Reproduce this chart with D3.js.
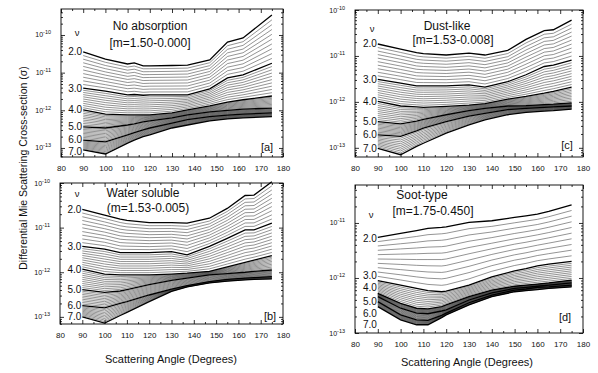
<!DOCTYPE html>
<html>
<head>
<meta charset="utf-8">
<script src="https://cdn.jsdelivr.net/npm/d3@7"></script>
<style>
  body { margin: 0; background: #fff; }
  text { font-family: "Liberation Sans", Arial, sans-serif; fill: #111; }
</style>
</head>
<body>
<div id="chart"></div>
<script>
let width = 598, height = 373;

// size-distribution parameter of the labelled (thick) curves
const nuKeys = [2, 3, 4, 5, 6, 7];
const nuLabels = ["2.0", "3.0", "4.0", "5.0", "6.0", "7.0"];
const xTicks = [80, 90, 100, 110, 120, 130, 140, 150, 160, 170, 180];

// [a] No absorption, log10 of cross-section, one row per nu
const angA = [90, 100, 110, 113, 117, 120, 130, 137, 147, 155, 162, 175];
const logA = [
  [-10.45, -10.64, -10.77, -10.74, -10.82, -10.82, -10.81, -10.80, -10.66, -10.19, -10.08, -9.47],
  [-11.41, -11.49, -11.59, -11.58, -11.60, -11.59, -11.59, -11.59, -11.43, -11.14, -11.06, -10.75],
  [-11.99, -12.10, -12.12, -12.12, -12.12, -12.12, -12.07, -11.99, -11.88, -11.78, -11.72, -11.62],
  [-12.44, -12.47, -12.39, -12.36, -12.31, -12.28, -12.20, -12.12, -12.04, -12.00, -11.97, -11.94],
  [-12.79, -12.84, -12.65, -12.59, -12.52, -12.47, -12.34, -12.25, -12.17, -12.13, -12.10, -12.07],
  [-13.05, -13.16, -12.87, -12.79, -12.70, -12.65, -12.47, -12.39, -12.28, -12.23, -12.20, -12.17]
];
const labelLogA = [-10.45, -11.41, -11.99, -12.43, -12.77, -13.10];

// [b] Water soluble
const angB = [90, 100, 107, 110, 120, 130, 137, 147, 155, 163, 167, 175];
const logB = [
  [-10.59, -10.72, -10.81, -10.84, -10.89, -10.89, -10.90, -10.79, -10.57, -10.28, -10.27, -9.97],
  [-11.42, -11.48, -11.56, -11.56, -11.56, -11.54, -11.61, -11.42, -11.24, -11.05, -11.05, -10.90],
  [-11.93, -12.04, -12.06, -12.06, -12.06, -12.04, -12.02, -11.98, -11.88, -11.78, -11.73, -11.63],
  [-12.39, -12.45, -12.42, -12.39, -12.28, -12.18, -12.13, -12.06, -12.03, -12.00, -11.98, -11.95],
  [-12.75, -12.80, -12.70, -12.66, -12.51, -12.38, -12.30, -12.21, -12.16, -12.13, -12.12, -12.10],
  [-13.00, -13.14, -12.97, -12.90, -12.66, -12.43, -12.33, -12.24, -12.20, -12.17, -12.16, -12.15]
];

// [c] Dust-like
const angC = [90, 100, 107, 110, 120, 130, 137, 147, 155, 163, 167, 175];
const logC = [
  [-10.74, -10.85, -10.93, -10.95, -10.98, -10.94, -10.98, -10.88, -10.64, -10.45, -10.43, -10.22],
  [-11.51, -11.59, -11.65, -11.65, -11.65, -11.63, -11.68, -11.56, -11.41, -11.23, -11.20, -11.09],
  [-11.99, -12.09, -12.11, -12.12, -12.10, -12.07, -12.04, -11.94, -11.88, -11.81, -11.77, -11.68],
  [-12.43, -12.48, -12.42, -12.38, -12.28, -12.19, -12.14, -12.09, -12.08, -12.06, -12.05, -12.02],
  [-12.72, -12.75, -12.63, -12.57, -12.43, -12.31, -12.25, -12.17, -12.14, -12.12, -12.11, -12.09],
  [-13.01, -13.15, -12.97, -12.90, -12.68, -12.50, -12.39, -12.28, -12.23, -12.20, -12.19, -12.16]
];

// [d] Soot-type
const angD = [90, 100, 107, 112, 118, 120, 130, 140, 150, 155, 160, 165, 175];
const logD = [
  [-11.26, -11.19, -11.14, -11.10, -11.08, -11.07, -10.99, -10.96, -10.90, -10.87, -10.84, -10.79, -10.67],
  [-12.05, -12.13, -12.19, -12.23, -12.25, -12.24, -12.13, -11.98, -11.87, -11.83, -11.78, -11.75, -11.70],
  [-12.28, -12.46, -12.55, -12.56, -12.52, -12.49, -12.34, -12.22, -12.15, -12.13, -12.11, -12.09, -12.04],
  [-12.34, -12.55, -12.64, -12.65, -12.60, -12.58, -12.40, -12.27, -12.19, -12.17, -12.15, -12.13, -12.09],
  [-12.43, -12.67, -12.76, -12.77, -12.68, -12.64, -12.45, -12.31, -12.22, -12.20, -12.17, -12.16, -12.13],
  [-12.52, -12.76, -12.85, -12.85, -12.72, -12.67, -12.49, -12.34, -12.25, -12.23, -12.21, -12.19, -12.16]
];
// where the nu labels of panel d sit (log10 units), they are spread apart
const labelLogD = [-11.29, -11.96, -12.18, -12.42, -12.64, -12.84];

let panels = [
  {ang: angA, logs: logA, title: "No absorption", sub: "[m=1.50-0.000]", tag: "[a]", labelLog: labelLogA,
   x0: 61, x1: 283, y0: 9, y1: 157, dom: [-13.24, -9.31],
   tx: 150, ty: 30, sx: 150, sy: 47, nx: 77, ny: 36, gx: 267, gy: 151},
  {ang: angB, logs: logB, title: "Water soluble", sub: "(m=1.53-0.005)", tag: "[b]",
   x0: 60, x1: 283, y0: 183, y1: 324, dom: [-13.16, -10],
   tx: 143, ty: 197, sx: 148, sy: 212, nx: 77, ny: 197, gx: 270, gy: 320},
  {ang: angC, logs: logC, title: "Dust-like", sub: "[m=1.53-0.008]", tag: "[c]",
   x0: 355, x1: 583, y0: 10, y1: 157, dom: [-13.2, -10],
   tx: 447, ty: 30, sx: 453, sy: 44, nx: 372, ny: 32, gx: 567, gy: 149},
  {ang: angD, logs: logD, title: "Soot-type", sub: "[m=1.75-0.450]", tag: "[d]", labelLog: labelLogD,
   x0: 355, x1: 583, y0: 185, y1: 333, dom: [-13, -10.31],
   tx: 422, ty: 199, sx: 433, sy: 215, nx: 371, ny: 218, gx: 565, gy: 321}
];

let svg = d3.select("#chart").append("svg")
  .attr("width", width).attr("height", height)
  .attr("viewBox", [0, 0, width, height]);

// all nu values 2.0 .. 7.0 in steps of 0.1
let nuAll = d3.range(20, 71).map(d => d / 10);

function curveFor(p, nu) {
  let i = Math.min(Math.floor(nu) - 2, 4);
  let t = nu - nuKeys[i];
  let a = p.logs[i], b = p.logs[Math.min(i + 1, 5)];
  return p.ang.map((th, k) => [th, a[k] + (b[k] - a[k]) * t]);
}

panels.forEach(p => {
  let x = d3.scaleLinear().domain([80, 180]).range([p.x0, p.x1]);
  let y = d3.scaleLog().domain([Math.pow(10, p.dom[0]), Math.pow(10, p.dom[1])]).range([p.y1, p.y0]);
  let g = svg.append("g");

  let line = d3.line().x(d => x(d[0])).y(d => y(Math.pow(10, d[1])));

  // thin curves first, thick (integer nu) on top
  let thin = nuAll.filter(n => Math.abs(n - Math.round(n)) > 1e-6);
  g.append("g").selectAll("path").data(thin).join("path")
    .attr("d", n => line(curveFor(p, n)))
    .attr("fill", "none").attr("stroke", "#3a3a3a").attr("stroke-width", 0.55);
  g.append("g").selectAll("path").data(nuKeys).join("path")
    .attr("d", n => line(curveFor(p, n)))
    .attr("fill", "none").attr("stroke", "#000").attr("stroke-width", 1.3);

  // nu labels at the curve starts
  g.append("g").selectAll("text").data(nuLabels).join("text")
    .attr("x", x(90) - 1)
    .attr("y", (d, i) => y(Math.pow(10, p.labelLog ? p.labelLog[i] : p.logs[i][0])) + 3.5)
    .attr("text-anchor", "end")
    .attr("font-size", 10)
    .text(d => d);

  // frame
  g.append("rect").attr("x", p.x0).attr("y", p.y0)
    .attr("width", p.x1 - p.x0).attr("height", p.y1 - p.y0)
    .attr("fill", "none").attr("stroke", "#000").attr("stroke-width", 0.9);

  // x ticks, inward on bottom and top
  let minorX = d3.range(85, 180, 10);
  let xb = g.append("g").attr("transform", `translate(0,${p.y1})`)
    .call(d3.axisBottom(x).tickValues(xTicks).tickSize(-4).tickPadding(8).tickFormat(d3.format("d")));
  xb.selectAll("text").attr("font-size", 8).attr("font-family", "Liberation Sans, Arial, sans-serif");
  g.append("g").attr("transform", `translate(0,${p.y1})`)
    .call(d3.axisBottom(x).tickValues(minorX).tickSize(-2).tickFormat(""));
  g.append("g").attr("transform", `translate(0,${p.y0})`)
    .call(d3.axisTop(x).tickValues(xTicks).tickSize(-4).tickFormat(""));
  g.append("g").attr("transform", `translate(0,${p.y0})`)
    .call(d3.axisTop(x).tickValues(minorX).tickSize(-2).tickFormat(""));

  // y ticks, log decades plus minor 2..9
  let lo = Math.pow(10, p.dom[0]), hi = Math.pow(10, p.dom[1]);
  let decades = [-13, -12, -11, -10, -9].map(e => Math.pow(10, e)).filter(v => v >= lo * 0.999 && v <= hi * 1.001);
  let minorY = [];
  [-14, -13, -12, -11, -10].forEach(e => {
    for (let m = 2; m <= 9; m++) {
      let v = m * Math.pow(10, e);
      if (v > lo && v < hi) minorY.push(v);
    }
  });
  g.append("g").attr("transform", `translate(${p.x0},0)`)
    .call(d3.axisLeft(y).tickValues(decades).tickSize(-4).tickFormat(""));
  g.append("g").attr("transform", `translate(${p.x0},0)`)
    .call(d3.axisLeft(y).tickValues(minorY).tickSize(-2).tickFormat(""));
  g.append("g").attr("transform", `translate(${p.x1},0)`)
    .call(d3.axisRight(y).tickValues(decades).tickSize(-4).tickFormat(""));
  g.append("g").attr("transform", `translate(${p.x1},0)`)
    .call(d3.axisRight(y).tickValues(minorY).tickSize(-2).tickFormat(""));
  g.selectAll(".domain").remove();
  g.selectAll(".tick line").attr("stroke", "#000").attr("stroke-width", 0.8);

  // decade labels 10^-n
  let yl = g.append("g").selectAll("text").data(decades).join("text")
    .attr("x", p.x0 - 10)
    .attr("y", d => y(d) + 2.5)
    .attr("text-anchor", "end")
    .attr("font-size", 7);
  yl.append("tspan").text("10");
  yl.append("tspan").attr("dy", -3).attr("font-size", 5.5)
    .text(d => "-" + Math.round(-Math.log10(d)));

  // annotations
  g.append("text").attr("x", p.tx).attr("y", p.ty).attr("text-anchor", "middle")
    .attr("font-size", 12).text(p.title);
  g.append("text").attr("x", p.sx).attr("y", p.sy).attr("text-anchor", "middle")
    .attr("font-size", 12).text(p.sub);
  g.append("text").attr("x", p.nx).attr("y", p.ny).attr("text-anchor", "middle")
    .attr("font-size", 9.5).text("\u03bd");
  g.append("text").attr("x", p.gx).attr("y", p.gy).attr("text-anchor", "middle")
    .attr("font-size", 11).text(p.tag);
});

// axis titles
svg.append("text").attr("transform", "translate(27,168) rotate(-90)")
  .attr("text-anchor", "middle").attr("font-size", 10.5)
  .text("Differential Mie Scattering Cross-section (\u03c3)");
svg.append("text").attr("x", 171).attr("y", 363).attr("text-anchor", "middle")
  .attr("font-size", 11).text("Scattering Angle (Degrees)");
svg.append("text").attr("x", 467).attr("y", 366).attr("text-anchor", "middle")
  .attr("font-size", 11).text("Scattering Angle (Degrees)");
</script>
</body>
</html>
